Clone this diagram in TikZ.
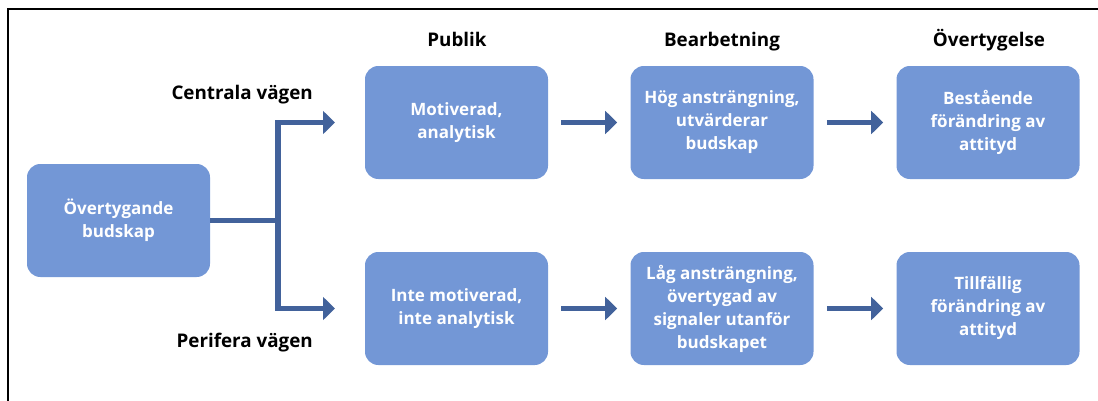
\documentclass[tikz,border=0pt]{standalone}
\usepackage{fontspec}
\setmainfont{Open Sans}
\usepackage{xcolor}
\usetikzlibrary{arrows.meta}
\definecolor{boxblue}{HTML}{7397D6}
\definecolor{arrowblue}{HTML}{42629B}

\begin{document}
\begin{tikzpicture}[x=0.75pt,y=0.75pt,yscale=-1,
  stage/.style={fill=boxblue, rounded corners=10pt, minimum width=137.25pt, minimum height=84.75pt,
    inner sep=0pt, align=center, text=white, font=\fontsize{12.75}{17.25}\selectfont\bfseries},
  heading/.style={anchor=base, inner sep=0pt, font=\fontsize{14.1}{17}\selectfont\bfseries},
  route/.style={anchor=base east, inner sep=0pt, font=\fontsize{14.1}{17}\selectfont\bfseries},
  branch/.style={draw=arrowblue, line width=4.1pt},
  flow/.style={branch, -{Triangle[length=9pt,width=17pt]}, shorten <=9.75pt, shorten >=9.75pt}]
\useasboundingbox (0,0) rectangle (1098,400);

%Frame
\draw [line width=1.5pt] (8,410) -- (8,9) -- (1110,9) ;

% Text Node
\node [heading] (hpub) at (457,46) {Publik};
% Text Node
\node [heading] (hbea) at (722,46) {Bearbetning};
% Text Node
\node [heading] (hove) at (989,46) {Övertygelse};
% Text Node
\node [route] (central) at (313,99) {Centrala vägen};
% Text Node
\node [route] (periph) at (313,347) {Perifera vägen};

%Boxes
\node [stage] (msg) at (118.5,220.5) {Övertygande\\budskap};
\node [stage] (pub1) at (456.5,122.5) {Motiverad,\\analytisk};
\node [stage] (pub2) at (456.5,308.5) {Inte motiverad,\\inte analytisk};
\node [stage] (bea1) at (722,122.5) {Hög ansträngning,\\utvärderar\\budskap};
\node [stage] (bea2) at (722,308.5) {Låg ansträngning,\\övertygad av\\signaler utanför\\budskapet};
\node [stage] (ove1) at (988,122.5) {Bestående\\förändring av\\attityd};
\node [stage] (ove2) at (988,308.5) {Tillfällig\\förändring av\\attityd};

%Fork
\coordinate (junc) at (278,220.5);
\coordinate (cenEnd) at (335,122.5);
\coordinate (perEnd) at (335,308.5);
\draw [branch] (msg.east) -- (junc) ;
\draw [branch, -{Triangle[length=9pt,width=17pt]}] (junc) |- (cenEnd) ;
\draw [branch, -{Triangle[length=9pt,width=17pt]}] (junc) |- (perEnd) ;

%Arrows
\draw [flow] (pub1) -- (bea1) ;
\draw [flow] (bea1) -- (ove1) ;
\draw [flow] (pub2) -- (bea2) ;
\draw [flow] (bea2) -- (ove2) ;

\end{tikzpicture}
\end{document}
